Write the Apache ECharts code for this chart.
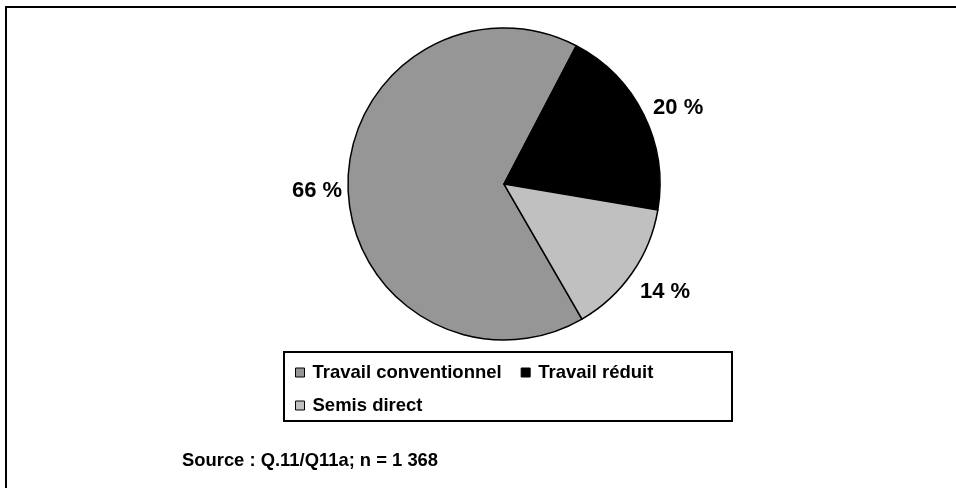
<!DOCTYPE html>
<html>
<head>
<meta charset="utf-8">
<script src="https://cdn.jsdelivr.net/npm/echarts@6/dist/echarts.min.js"></script>
<style>
    html, body { margin: 0; padding: 0; background: #fff; }
    #chart { width: 956px; height: 488px; }
</style>
</head>
<body>
<div id="chart"></div>
<script>
var categories = ['Travail conventionnel', 'Travail réduit', 'Semis direct'];
var shares = [66, 20, 14];
var sliceColors = ['#969696', '#000000', '#c0c0c0'];
var sourceNote = 'Source : Q.11/Q11a; n = 1 368';

var FONT = 'Arial, "Liberation Sans", sans-serif';

var chart = echarts.init(document.getElementById('chart'));

var pieData = [];
for (var i = 0; i < categories.length; i++) {
    pieData.push({
        name: categories[i],
        value: shares[i],
        itemStyle: { color: sliceColors[i] }
    });
}

// small nudges so the labels sit where the original (Excel) put them
var labelNudge = [[5, 4], [-1, -4], [-2, 15]];

var legendCommon = {
    orient: 'horizontal',
    icon: 'rect',
    itemWidth: 9,
    itemHeight: 9,
    itemGap: 19,
    padding: 0,
    selectedMode: false,
    itemStyle: { borderColor: '#000', borderWidth: 1 },
    textStyle: {
        fontFamily: FONT, fontSize: 18.5, fontWeight: 'bold', color: '#000',
        lineHeight: 18, padding: [0, 0, 0, 3]
    }
};

var option = {
    backgroundColor: '#fff',
    animation: false,
    legend: [
        echarts.util.merge({ left: 295, top: 363, data: [categories[0], categories[1]] }, legendCommon, true),
        echarts.util.merge({ left: 295, top: 396, data: [categories[2]] }, legendCommon, true)
    ],
    graphic: [
        {
            // outer frame: only top and left edges fall inside the picture
            type: 'polyline',
            shape: { points: [[6, 600], [6, 7], [1100, 7]] },
            style: { fill: null, stroke: '#000', lineWidth: 2 },
            silent: true
        },
        {
            type: 'rect',
            shape: { x: 284, y: 352, width: 448, height: 69 },
            style: { fill: null, stroke: '#000', lineWidth: 2 },
            silent: true
        },
        {
            type: 'text',
            left: 182,
            top: 452,
            style: {
                text: sourceNote,
                font: 'bold 18.4px ' + FONT,
                fill: '#000'
            }
        }
    ],
    series: [
        {
            type: 'pie',
            center: [504, 184],
            radius: 156,
            startAngle: -60,
            clockwise: true,
            avoidLabelOverlap: false,
            itemStyle: { borderColor: '#000', borderWidth: 1.5 },
            label: {
                show: true,
                position: 'outside',
                formatter: '{c} %',
                fontFamily: FONT,
                fontSize: 22,
                fontWeight: 'bold',
                color: '#000'
            },
            labelLine: { show: false, length: 6, length2: 0 },
            labelLayout: function (p) {
                var n = labelNudge[p.dataIndex];
                return { dx: n[0], dy: n[1] };
            },
            emphasis: { disabled: true },
            data: pieData
        }
    ]
};

chart.setOption(option);
</script>
</body>
</html>
